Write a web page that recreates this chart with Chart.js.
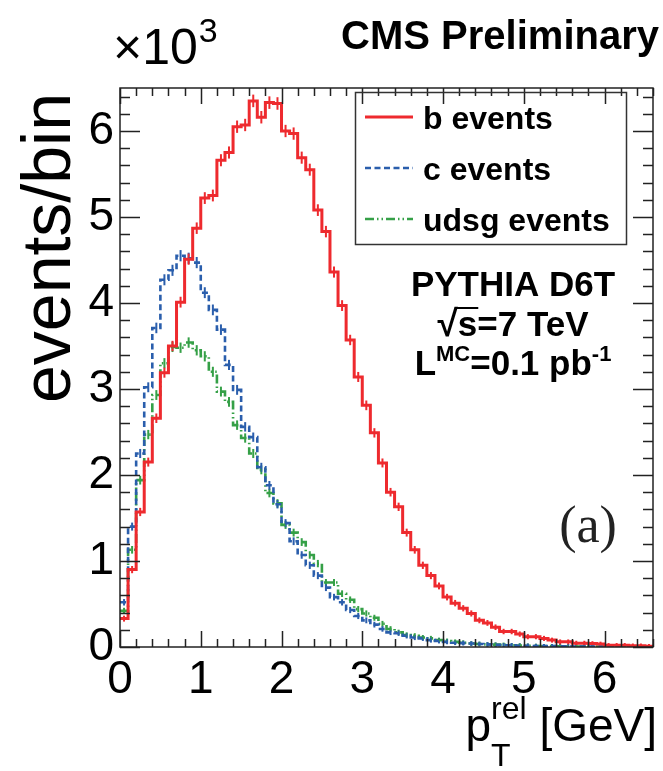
<!DOCTYPE html>
<html>
<head>
<meta charset="utf-8">
<script src="https://cdn.jsdelivr.net/npm/chart.js@4.4.1/dist/chart.umd.min.js"></script>
<style>
  html, body { margin: 0; padding: 0; background: #fff; }
  #wrap { width: 663px; height: 771px; }
</style>
</head>
<body>
<div id="wrap"><canvas id="ptrelChart" width="663" height="771"></canvas></div>
<script>
// 66 bins of 0.1 GeV, p_T^rel from 0 to 6.6
const binWidth = 0.1;

// events per bin, in units of 10^3
const bEvents = [
  0.33, 0.90, 1.57, 2.15, 2.66, 3.19, 3.50, 4.01, 4.51, 4.87,
  5.22, 5.25, 5.66, 5.75, 6.05, 6.07, 6.35, 6.16, 6.33, 6.32,
  6.00, 5.97, 5.69, 5.55, 5.08, 4.83, 4.36, 3.97, 3.57, 3.14,
  2.81, 2.49, 2.14, 1.80, 1.63, 1.33, 1.13, 0.95, 0.83, 0.71,
  0.58, 0.51, 0.45, 0.39, 0.31, 0.28, 0.23, 0.18, 0.18, 0.15,
  0.12, 0.12, 0.10, 0.08, 0.06, 0.06, 0.045, 0.045, 0.04, 0.035,
  0.02, 0.02, 0.02, 0.015, 0.015, 0.01
];
const cEvents = [
  0.52, 1.40, 2.25, 3.02, 3.71, 4.27, 4.38, 4.55, 4.52, 4.47,
  4.12, 3.92, 3.69, 3.28, 2.99, 2.56, 2.44, 2.09, 1.88, 1.66,
  1.44, 1.23, 1.07, 0.95, 0.83, 0.69, 0.58, 0.52, 0.43, 0.36,
  0.31, 0.26, 0.21, 0.17, 0.16, 0.13, 0.11, 0.10, 0.08, 0.07,
  0.06, 0.05, 0.045, 0.04, 0.035, 0.03, 0.025, 0.02, 0.02, 0.015,
  0.015, 0.012, 0.01, 0.01, 0.008, 0.008, 0.006, 0.006, 0.005, 0.005,
  0.004, 0.004, 0.003, 0.003, 0.002, 0.002
];
const udsgEvents = [
  0.42, 1.13, 1.94, 2.47, 2.93, 3.30, 3.49, 3.48, 3.54, 3.45,
  3.38, 3.20, 2.97, 2.85, 2.58, 2.43, 2.25, 2.06, 1.79, 1.67,
  1.42, 1.33, 1.22, 1.07, 0.97, 0.75, 0.75, 0.62, 0.55, 0.44,
  0.39, 0.34, 0.27, 0.21, 0.17, 0.14, 0.13, 0.11, 0.10, 0.08,
  0.07, 0.06, 0.05, 0.04, 0.035, 0.03, 0.028, 0.025, 0.02, 0.018,
  0.015, 0.012, 0.01, 0.01, 0.008, 0.008, 0.006, 0.006, 0.005, 0.005,
  0.004, 0.004, 0.003, 0.003, 0.003, 0.002
];

const xTicks = [0, 1, 2, 3, 4, 5, 6];
const yTicks = [0, 1, 2, 3, 4, 5, 6];

const RED = "#ee2a2e";
const BLUE = "#2a5eac";
const GREEN = "#35a047";
const FONT = "'Liberation Sans', Arial, Helvetica, sans-serif";

// histogram outline: one point per left bin edge, plus the closing edge
function stepPoints(vals) {
  const pts = vals.map((v, i) => ({ x: i * binWidth, y: v }));
  pts.push({ x: vals.length * binWidth, y: vals[vals.length - 1] });
  return pts;
}
// error ticks at bin centres
function centrePoints(vals) {
  return vals.map((v, i) => ({ x: (i + 0.5) * binWidth, y: v }));
}
function errLen(ctx) {
  const v = ctx.raw ? ctx.raw.y : 0;
  return 2 + 1.7 * Math.sqrt(Math.max(v, 0));
}

function histSet(label, vals, color, dash, width) {
  return {
    label: label,
    data: stepPoints(vals),
    borderColor: color,
    borderWidth: width,
    borderDash: dash,
    stepped: "before",
    pointRadius: 0,
    fill: false,
    inLegend: true
  };
}
function errSet(vals, color) {
  return {
    label: "",
    data: centrePoints(vals),
    showLine: false,
    pointStyle: "line",
    rotation: 90,
    pointRadius: errLen,
    pointBorderColor: color,
    pointBorderWidth: 2,
    inLegend: false
  };
}

// frame, inner ticks, legend and labels drawn on top of the plot
const histDecor = {
  id: "histDecor",
  afterDraw(chart) {
    const { ctx, chartArea: a, scales: { x, y } } = chart;
    ctx.save();

    // inner ticks on all four sides
    ctx.strokeStyle = "#222";
    ctx.lineWidth = 1.5;
    ctx.beginPath();
    for (let k = 0; k * 0.2 <= x.max + 1e-9; k++) {
      const px = Math.round(x.getPixelForValue(k * 0.2)) + 0.5;
      const len = k % 5 === 0 ? 16 : 8;
      ctx.moveTo(px, a.bottom); ctx.lineTo(px, a.bottom - len);
      ctx.moveTo(px, a.top); ctx.lineTo(px, a.top + len);
    }
    for (let k = 0; k * 0.2 <= y.max + 1e-9; k++) {
      const py = Math.round(y.getPixelForValue(k * 0.2)) + 0.5;
      const len = k % 5 === 0 ? 20 : 10;
      ctx.moveTo(a.left, py); ctx.lineTo(a.left + len, py);
      ctx.moveTo(a.right, py); ctx.lineTo(a.right - len, py);
    }
    ctx.stroke();
    ctx.strokeRect(a.left, a.top, a.right - a.left, a.bottom - a.top);

    // legend box
    ctx.lineWidth = 1.5;
    ctx.strokeStyle = "#333";
    ctx.strokeRect(355.5, 92.5, 271, 152);
    const legendSets = chart.data.datasets.filter(d => d.inLegend);
    ctx.font = "bold 32px " + FONT;
    ctx.fillStyle = "#000";
    ctx.textBaseline = "alphabetic";
    ctx.textAlign = "left";
    legendSets.forEach((d, i) => {
      const ly = 117 + i * 51;
      ctx.save();
      ctx.strokeStyle = d.borderColor;
      ctx.lineWidth = d.borderWidth;
      ctx.setLineDash(d.borderDash || []);
      ctx.beginPath();
      ctx.moveTo(365, ly); ctx.lineTo(413, ly);
      ctx.stroke();
      ctx.restore();
      ctx.fillText(d.label, 423, ly + 12);
    });

    // header
    ctx.font = "bold 40px " + FONT;
    ctx.textAlign = "right";
    ctx.fillText("CMS Preliminary", 659, 49);

    // axis multiplier
    ctx.textAlign = "left";
    ctx.font = "50px " + FONT;
    ctx.fillText("\u00d710", 113, 64);
    const w10 = ctx.measureText("\u00d710").width;
    ctx.font = "34px " + FONT;
    ctx.fillText("3", 113 + w10 + 1, 42);

    // y title
    ctx.save();
    ctx.translate(70, 248);
    ctx.rotate(-Math.PI / 2);
    ctx.textAlign = "center";
    ctx.font = "68px " + FONT;
    ctx.fillText("events/bin", 0, 0);
    ctx.restore();

    // x title: p_T^rel [GeV]
    drawRuns(ctx, [
      { t: "p", f: "46px " + FONT, dy: 0 },
      { t: "rel", f: "32px " + FONT, dy: -22, sub: { t: "T", f: "32px " + FONT, dy: 25 } },
      { t: " [GeV]", f: "46px " + FONT, dy: 0 }
    ], 657, 741, "right");

    // generator info
    ctx.textAlign = "center";
    ctx.font = "bold 35px " + FONT;
    ctx.fillText("PYTHIA D6T", 513, 296);

    const sq = drawRuns(ctx, [
      { t: "\u221a", f: "bold 37px " + FONT, dy: 0 },
      { t: "s", f: "bold 35px " + FONT, dy: 0 },
      { t: "=7 TeV", f: "bold 35px " + FONT, dy: 0 }
    ], 513, 336, "center");
    ctx.beginPath();
    ctx.lineWidth = 2;
    ctx.strokeStyle = "#000";
    ctx.moveTo(sq[1].x - 3, 308); ctx.lineTo(sq[1].x + sq[1].w + 1, 308);
    ctx.stroke();

    drawRuns(ctx, [
      { t: "L", f: "bold 35px " + FONT, dy: 0 },
      { t: "MC", f: "bold 22px " + FONT, dy: -14 },
      { t: "=0.1 pb", f: "bold 35px " + FONT, dy: 0 },
      { t: "-1", f: "bold 22px " + FONT, dy: -14 }
    ], 513, 375, "center");

    // panel tag
    ctx.textAlign = "center";
    ctx.font = "52px 'Liberation Serif', 'Times New Roman', serif";
    ctx.fillStyle = "#222";
    ctx.fillText("(a)", 588, 542);

    ctx.restore();
  }
};

// draws a row of text runs with raised / lowered parts, returns run positions
function drawRuns(ctx, runs, x, baseline, align) {
  ctx.save();
  ctx.textAlign = "left";
  const widths = runs.map(r => {
    ctx.font = r.f;
    let w = ctx.measureText(r.t).width;
    if (r.sub) { ctx.font = r.sub.f; w = Math.max(w, ctx.measureText(r.sub.t).width); }
    return w;
  });
  const total = widths.reduce((s, w) => s + w, 0);
  let cx = align === "right" ? x - total : align === "center" ? x - total / 2 : x;
  const pos = [];
  runs.forEach((r, i) => {
    ctx.font = r.f;
    ctx.fillText(r.t, cx, baseline + r.dy);
    if (r.sub) { ctx.font = r.sub.f; ctx.fillText(r.sub.t, cx, baseline + r.sub.dy); }
    pos.push({ x: cx, w: widths[i] });
    cx += widths[i];
  });
  ctx.restore();
  return pos;
}

const ctx = document.getElementById("ptrelChart").getContext("2d");
new Chart(ctx, {
  type: "line",
  data: {
    datasets: [
      histSet("b events", bEvents, RED, [], 3),
      histSet("c events", cEvents, BLUE, [6, 3.5], 2.6),
      histSet("udsg events", udsgEvents, GREEN, [9, 3, 1.5, 3, 1.5, 3], 2.6),
      errSet(bEvents, RED),
      errSet(cEvents, BLUE),
      errSet(udsgEvents, GREEN)
    ]
  },
  options: {
    responsive: false,
    devicePixelRatio: 1,
    animation: false,
    events: [],
    layout: { padding: { left: 0, right: 10, top: 88, bottom: 0 } },
    plugins: { legend: { display: false }, tooltip: { enabled: false } },
    scales: {
      x: {
        type: "linear",
        min: 0,
        max: 6.6,
        afterBuildTicks: s => { s.ticks = xTicks.map(v => ({ value: v })); },
        afterFit: s => { s.height = 124; },
        grid: { display: false, drawTicks: false },
        border: { display: false },
        ticks: { font: { family: FONT, size: 46 }, color: "#000", padding: 6, maxRotation: 0, autoSkip: false }
      },
      y: {
        min: 0,
        max: 6.5,
        afterBuildTicks: s => { s.ticks = yTicks.map(v => ({ value: v })); },
        afterFit: s => { s.width = 120; },
        grid: { display: false, drawTicks: false },
        border: { display: false },
        ticks: { font: { family: FONT, size: 46 }, color: "#000", padding: 6, autoSkip: false }
      }
    }
  },
  plugins: [histDecor]
});
</script>
</body>
</html>
